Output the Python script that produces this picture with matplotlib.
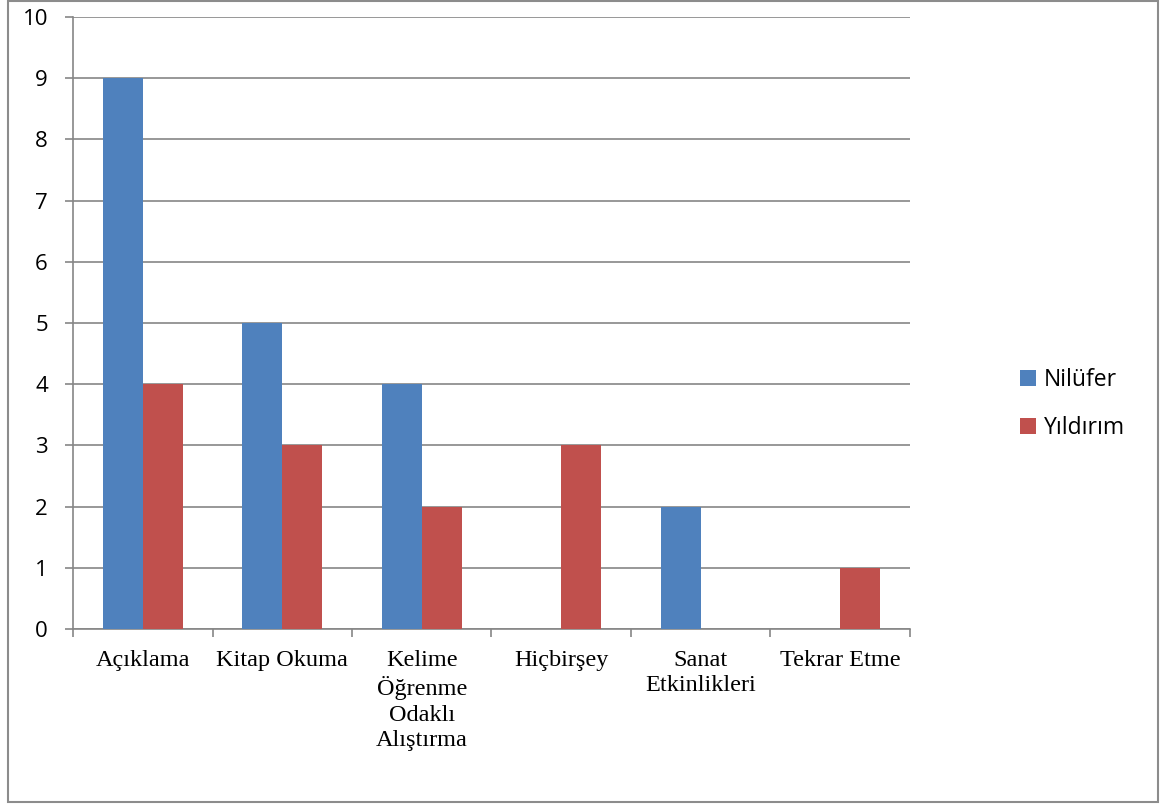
import matplotlib.pyplot as plt
from matplotlib.patches import Rectangle
import numpy as np

categories = ["Açıklama", "Kitap Okuma", "Kelime\nÖğrenme\nOdaklı\nAlıştırma",
              "Hiçbirşey", "Sanat\nEtkinlikleri", "Tekrar Etme"]
nilufer = [9, 5, 4, 0, 2, 0]
yildirim = [4, 3, 2, 3, 0, 1]
series_names = ["Nilüfer", "Yıldırım"]

blue = "#4F81BD"
red = "#C0504D"
grey = "#868686"

fig = plt.figure(figsize=(11.69, 8.05), dpi=100)
ax = fig.add_axes([73 / 1169, 1 - 629 / 805, (910 - 73) / 1169, (629 - 17) / 805])

x = np.arange(len(categories))
w = 0.287
ax.bar(x - w / 2, nilufer, w, color=blue, label=series_names[0], zorder=3)
ax.bar(x + w / 2, yildirim, w, color=red, label=series_names[1], zorder=3)

ax.set_xlim(-0.5, len(categories) - 0.5)
ax.set_ylim(0, 10)
ax.set_yticks(range(0, 11))
ax.yaxis.grid(True, color=grey, lw=1.2, zorder=0)
ax.set_axisbelow(True)

for s in ["top", "right"]:
    ax.spines[s].set_visible(False)
for s in ["left", "bottom"]:
    ax.spines[s].set_color(grey)
    ax.spines[s].set_linewidth(1.2)

ax.tick_params(axis="y", direction="out", length=6, width=1.2, color=grey,
               pad=12, labelsize=16)
for lab in ax.get_yticklabels():
    lab.set_fontfamily("Open Sans")

ax.set_xticks(x)
ax.set_xticklabels(categories, fontfamily="Liberation Serif", fontsize=17.5,
                   linespacing=1.28)
ax.set_xticks(np.arange(-0.5, len(categories)), minor=True)
ax.tick_params(axis="x", which="major", length=0, pad=15)
ax.tick_params(axis="x", which="minor", direction="out", length=6, width=1.2,
               color=grey)

fig.legend(loc="center left", bbox_to_anchor=(999 / 1169, 1 - 404 / 805),
           frameon=False, handlelength=0.7, handleheight=0.7,
           handletextpad=0.35, labelspacing=1.05,
           prop={"family": "Open Sans", "size": 16.5})

# outer chart frame
fig.patches.append(Rectangle((8 / 1169, 3 / 805), 1150 / 1169, 801 / 805,
                             transform=fig.transFigure, fill=False,
                             edgecolor="#8c8c8c", lw=1.5))

fig.savefig("out.png", dpi=100)
